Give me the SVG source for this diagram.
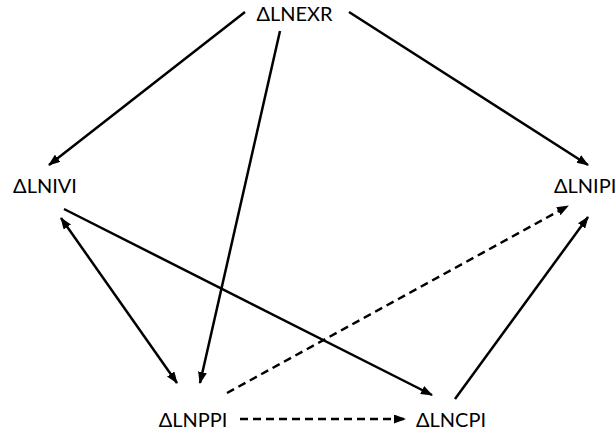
<svg xmlns="http://www.w3.org/2000/svg" width="615" height="437" viewBox="0 0 615 437">
<defs>
<style>
.lbl{font-family:Lato,"Open Sans","Liberation Sans",sans-serif;font-size:20px;fill:#000}
.e{stroke:#000;stroke-width:2.5;fill:none;marker-end:url(#ah)}
.d{stroke-dasharray:8 5}
.b{marker-start:url(#ah)}
</style>
<marker id="ah" markerUnits="userSpaceOnUse" markerWidth="12" markerHeight="10" refX="11" refY="4.5" orient="auto-start-reverse">
<path d="M0,0 L12,4.5 L0,9 z" fill="#000"/>
</marker>
</defs>
<rect width="615" height="437" fill="#fff"/>
<g id="connectors">
<line class="e" x1="245" y1="12" x2="49" y2="165"/>
<line class="e" x1="349" y1="12" x2="588" y2="165"/>
<line class="e" x1="280" y1="31" x2="200" y2="383"/>
<line class="e b" x1="61" y1="218" x2="177" y2="383"/>
<line class="e" x1="64" y1="209" x2="432" y2="395"/>
<line class="e" x1="455" y1="399" x2="588" y2="217"/>
<line class="e d" x1="227" y1="393" x2="568" y2="206"/>
<line class="e d" x1="240" y1="419" x2="405" y2="419"/>
</g>
<g id="NEXR"><text class="lbl" x="294.5" y="21" text-anchor="middle">ΔLNEXR</text></g>
<g id="NIVI"><text class="lbl" x="45" y="193" text-anchor="middle">ΔLNIVI</text></g>
<g id="NIPI"><text class="lbl" x="554" y="193">ΔLNIPI</text></g>
<g id="NPPI"><text class="lbl" x="193" y="427" text-anchor="middle">ΔLNPPI</text></g>
<g id="NCPI"><text class="lbl" x="451" y="427" text-anchor="middle">ΔLNCPI</text></g>
</svg>
